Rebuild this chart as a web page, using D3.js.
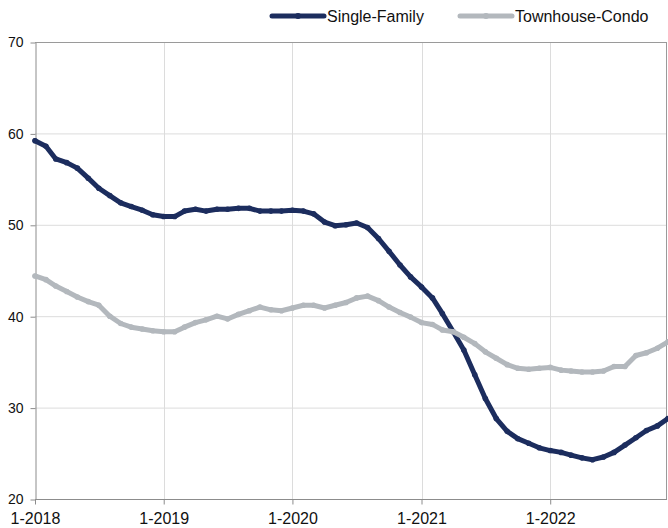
<!DOCTYPE html>
<meta charset="UTF-8">
<style>
body { margin: 0; background: #fff; }
.grid line { stroke: #dcdcdc; stroke-width: 1px; }
.axis text { font-family: "Liberation Sans", Arial, sans-serif; fill: #111; }
.axis path, .axis line { stroke: #8c8c8c; }
.series { fill: none; stroke-width: 5px; stroke-linejoin: round; stroke-linecap: round; }
.legend text { font: 16px "Liberation Sans", Arial, sans-serif; fill: #111; }
</style>
<body>
<div class="chart"></div>
<script src="https://d3js.org/d3.v7.min.js"></script>
<script>
var width = 668, height = 528;
var margin = {top: 42, right: 0, bottom: 29, left: 35};

// monthly, Jan 2018 .. Dec 2022
var startMonth = [2018, 0];
var singleFamily = [
  59.2, 58.6, 57.2, 56.8, 56.2, 55.1, 54.0, 53.2, 52.4, 52.0, 51.6, 51.1,
  50.9, 50.9, 51.5, 51.7, 51.5, 51.7, 51.7, 51.8, 51.8, 51.5, 51.5, 51.5,
  51.6, 51.5, 51.2, 50.3, 49.9, 50.0, 50.2, 49.7, 48.5, 47.1, 45.6, 44.3,
  43.2, 42.0, 40.3, 38.3, 36.3, 33.6, 31.0, 28.8, 27.4, 26.6, 26.1, 25.6,
  25.3, 25.1, 24.8, 24.5, 24.3, 24.6, 25.1, 25.9, 26.7, 27.5, 28.0, 28.8
];
var townhouseCondo = [
  44.4, 44.0, 43.3, 42.7, 42.1, 41.6, 41.2, 40.0, 39.2, 38.8, 38.6, 38.4,
  38.3, 38.3, 38.8, 39.3, 39.6, 40.0, 39.7, 40.2, 40.6, 41.0, 40.7, 40.6,
  40.9, 41.2, 41.2, 40.9, 41.2, 41.5, 42.0, 42.2, 41.7, 41.0, 40.4, 39.9,
  39.3, 39.1, 38.5, 38.3, 37.7, 37.0, 36.1, 35.4, 34.7, 34.3, 34.2, 34.3,
  34.4, 34.1, 34.0, 33.9, 33.9, 34.0, 34.5, 34.5, 35.7, 36.0, 36.5, 37.2
];
var seriesNames = ["Single-Family", "Townhouse-Condo"];
var seriesColors = ["#1c2d5e", "#b3b8bd"];
var yTicks = [20, 30, 40, 50, 60, 70];
var xTickYears = [2018, 2019, 2020, 2021, 2022];

var months = singleFamily.map(function (v, i) {
  return new Date(startMonth[0], startMonth[1] + i, 1);
});

var svg = d3.select(".chart").append("svg")
  .attr("width", width)
  .attr("height", height);

var x = d3.scaleTime()
  .domain([months[0], months[months.length - 1]])
  .range([margin.left, width - margin.right]);
var y = d3.scaleLinear()
  .domain([20, 70])
  .range([height - margin.bottom, margin.top]);

var xTicks = xTickYears.map(function (yr) { return new Date(yr, 0, 1); });

// gridlines
var grid = svg.append("g").attr("class", "grid");
grid.selectAll(".h").data(yTicks).enter().append("line")
  .attr("x1", margin.left).attr("x2", width - 1)
  .attr("y1", function (d) { return y(d) + 0.5; })
  .attr("y2", function (d) { return y(d) + 0.5; });
grid.selectAll(".v").data(xTicks.slice(1)).enter().append("line")
  .attr("y1", margin.top).attr("y2", height - margin.bottom)
  .attr("x1", function (d) { return Math.round(x(d)) + 0.5; })
  .attr("x2", function (d) { return Math.round(x(d)) + 0.5; });

// frame top / right
svg.append("line").attr("x1", margin.left).attr("x2", width - 1)
  .attr("y1", y(70) + 0.5).attr("y2", y(70) + 0.5).attr("stroke", "#9a9a9a");
svg.append("line").attr("x1", width - 1.5).attr("x2", width - 1.5)
  .attr("y1", margin.top).attr("y2", height - margin.bottom).attr("stroke", "#9a9a9a");

// axes
var yAxis = svg.append("g").attr("class", "axis")
  .attr("transform", "translate(" + (margin.left + 0.5) + ",0.5)")
  .call(d3.axisLeft(y).tickValues(yTicks).tickSize(5).tickPadding(7).tickSizeOuter(0));
yAxis.selectAll("text").style("font-size", "14px");

var xAxis = svg.append("g").attr("class", "axis")
  .attr("transform", "translate(0," + (height - margin.bottom + 0.5) + ")")
  .call(d3.axisBottom(x).tickValues(xTicks).tickSize(5).tickPadding(8).tickSizeOuter(0)
    .tickFormat(function (d) { return "1-" + d.getFullYear(); }));
xAxis.selectAll("text").style("font-size", "16px");
xAxis.select(".domain").attr("d", "M" + margin.left + ",0H" + (width - 1));

// lines
var line = d3.line()
  .x(function (d, i) { return x(months[i]); })
  .y(function (d) { return y(d); });

[singleFamily, townhouseCondo].forEach(function (vals, k) {
  var g = svg.append("g");
  g.append("path")
    .attr("class", "series")
    .attr("stroke", seriesColors[k])
    .attr("d", line(vals));
  g.selectAll("circle").data(vals).enter().append("circle")
    .attr("cx", function (d, i) { return x(months[i]); })
    .attr("cy", function (d) { return y(d); })
    .attr("r", 2.8)
    .attr("fill", seriesColors[k]);
});

// legend
var legendX = [270, 458];
var legend = svg.append("g").attr("class", "legend");
seriesNames.forEach(function (name, k) {
  var lg = legend.append("g").attr("transform", "translate(" + legendX[k] + ",16)");
  lg.append("line").attr("x1", 2).attr("x2", 54).attr("y1", 0).attr("y2", 0)
    .attr("stroke", seriesColors[k]).attr("stroke-width", 5).attr("stroke-linecap", "round");
  lg.append("circle").attr("cx", 28).attr("cy", 0).attr("r", 3).attr("fill", seriesColors[k]);
  lg.append("text").attr("x", 57).attr("dy", "0.35em").text(name);
});
</script>
</body>
